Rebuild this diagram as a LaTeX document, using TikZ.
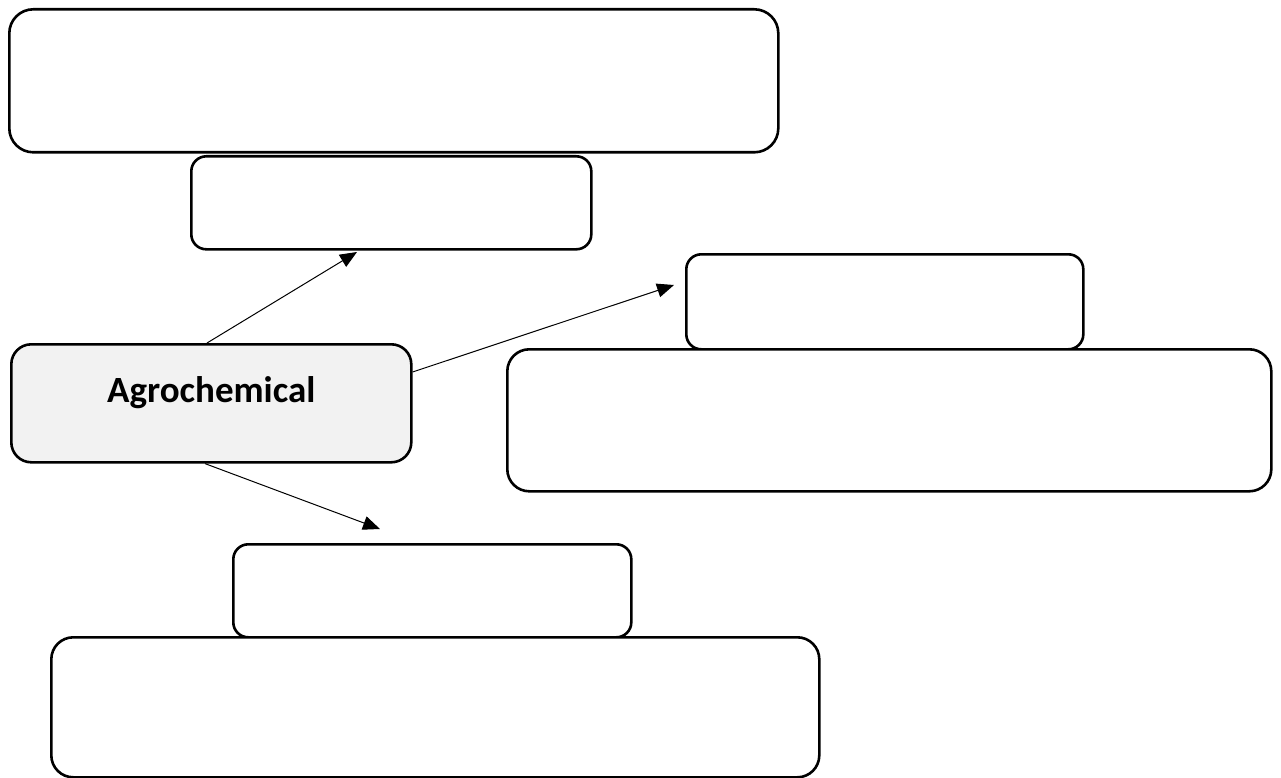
\documentclass[tikz,border=0pt]{standalone}
\usepackage{fontspec}
\setmainfont{Carlito}
\usetikzlibrary{arrows.meta}
\begin{document}
\begin{tikzpicture}[x=1pt,y=-1pt,
  box/.style={draw=black,line width=2.6pt,rounded corners=18pt},
  conn/.style={line width=1pt,-{Triangle[length=17pt,width=14pt]}}]
\useasboundingbox (0,0) rectangle (1281,778);
\node[box,rounded corners=24pt,minimum width=769pt,minimum height=143pt,anchor=north west] (a) at (8,8) {};
\node[box,rounded corners=15pt,minimum width=400pt,minimum height=93pt,anchor=north west] (b) at (190,155) {};
\node[box,rounded corners=15pt,minimum width=397pt,minimum height=95pt,anchor=north west] (d) at (685,253) {};
\node[box,rounded corners=22pt,minimum width=764pt,minimum height=142pt,anchor=north west,fill=white] (e) at (506,348) {};
\node[box,rounded corners=15pt,minimum width=398pt,minimum height=93pt,anchor=north west] (f) at (232,543) {};
\node[box,rounded corners=22pt,minimum width=768pt,minimum height=140pt,anchor=north west,fill=white] (g) at (50,636) {};
\node[box,rounded corners=20pt,fill={rgb,255:red,242;green,242;blue,242},minimum width=400pt,minimum height=118pt,anchor=north west] (c) at (10,343) {};
\node[font=\fontsize{37}{44}\selectfont\bfseries,inner sep=0pt] (ct) at ([yshift=11pt]c.center) {Agrochemical};
\coordinate (bt) at (357,252);
\coordinate (dt) at (674,285);
\coordinate (ft) at (380,529);
\draw[conn] (c.north west)++(197,0) -- (bt);
\draw[conn] ([yshift=-29pt]c.north east) -- (dt);
\draw[conn] (c.south west)++(195,0) -- (ft);
\end{tikzpicture}
\end{document}
